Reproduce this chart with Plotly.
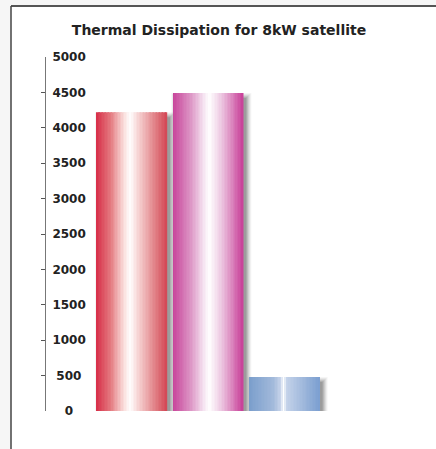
import plotly.graph_objects as go

# ---- data ----
categories = ["Series 1", "Series 2", "Series 3"]
values = [4220, 4490, 480]
tick_values = [0, 500, 1000, 1500, 2000, 2500, 3000, 3500, 4000, 4500, 5000]
tick_labels = [str(v) for v in tick_values]
title_text = "Thermal Dissipation for 8kW satellite"

# ---- style ----
gradients = [
    [(0, "#d72e48"), (0.2, "#e47a80"), (0.4, "#fbe2e0"), (0.48, "#ffffff"), (0.6, "#f6d2d2"), (0.85, "#e07c82"), (1, "#d34654")],
    [(0, "#c8449a"), (0.25, "#dc93c4"), (0.45, "#f6e6f2"), (0.52, "#ffffff"), (0.7, "#ecc6e0"), (1, "#c83e98")],
    [(0, "#7a9ecc"), (0.35, "#a3badb"), (0.45, "#c7d4ea"), (0.49, "#ffffff"), (0.53, "#c5d3ea"), (0.8, "#9bb5da"), (1, "#7b9fd0")],
]

def hex2rgb(h):
    h = h.lstrip("#")
    return tuple(int(h[i:i + 2], 16) for i in (0, 2, 4))

def interp(stops, t):
    for (t0, c0), (t1, c1) in zip(stops[:-1], stops[1:]):
        if t0 <= t <= t1:
            f = 0 if t1 == t0 else (t - t0) / (t1 - t0)
            a, b = hex2rgb(c0), hex2rgb(c1)
            return "rgb(%d,%d,%d)" % tuple(round(a[k] + (b[k] - a[k]) * f) for k in range(3))
    return stops[-1][1]

# centre narrower labels within a 4-digit slot (figure space = one digit, three-per-em ~ half digit)
def centred(label, slot=4):
    d = slot - len(label)
    return "\u2007" * (d // 2) + ("\u2004" if d % 2 else "") + label

L, R, T, B = 45, 60, 57, 38
W, H = 436, 449
pw, ph = W - L - R, H - T - B
pitch = 76.3                  # px per category
xr = [-1.14, -1.14 + pw / pitch]
yr = [0, 5000]
ux = 1 / pitch                # category units per px
uy = (yr[1] - yr[0]) / ph     # data units per px
bw = 70 * ux                  # bar width in category units

fig = go.Figure()

# shadows
for e, op in [(5, 0.05), (4, 0.07), (3, 0.09), (2, 0.11), (1, 0.13), (0, 0.15)]:
    dx, dy = 3, 3
    fig.add_trace(go.Bar(
        x=categories,
        y=[v + 2 * e * uy - 2 * uy for v in values],
        base=[-(dy + e) * uy for _ in values],
        width=bw + 2 * e * ux,
        offset=-bw / 2 - e * ux + dx * ux,
        marker=dict(color="rgba(50,50,50,%.3f)" % op, line=dict(width=0)),
        cliponaxis=False, hoverinfo="skip", showlegend=False,
    ))

# gradient bars as slices
N = 48
sw = bw / N
for i in range(N):
    t = (i + 0.5) / N
    fig.add_trace(go.Bar(
        x=categories,
        y=values,
        width=sw * 1.15,
        offset=-bw / 2 + i * sw,
        marker=dict(color=[interp(g, t) for g in gradients], line=dict(width=0)),
        hoverinfo="skip", showlegend=False, cliponaxis=False,
    ))

def px2x(px):
    return (px - L) / pw

def py2y(py):
    return (H - B - py) / ph

shapes = [
    dict(type="rect", xref="paper", yref="paper", x0=px2x(0), x1=px2x(W), y0=py2y(6), y1=py2y(0),
         fillcolor="#f6f6f6", line=dict(width=0), layer="below"),
    dict(type="rect", xref="paper", yref="paper", x0=px2x(0), x1=px2x(11), y0=py2y(H), y1=py2y(6),
         fillcolor="#f6f6f6", line=dict(width=0), layer="below"),
    dict(type="line", xref="paper", yref="paper", x0=px2x(11), x1=px2x(W), y0=py2y(6), y1=py2y(6),
         line=dict(color="#555555", width=2)),
    dict(type="line", xref="paper", yref="paper", x0=px2x(11), x1=px2x(11), y0=py2y(6), y1=py2y(H),
         line=dict(color="#444444", width=1.5)),
]

fig.update_layout(
    width=W, height=H,
    margin=dict(l=L, r=R, t=T, b=B, pad=0),
    paper_bgcolor="white", plot_bgcolor="white",
    barmode="overlay",
    title=dict(text=title_text, x=(219 - L) / pw, xref="paper", xanchor="center",
               y=1 - 30 / H, yref="container", yanchor="middle", pad=dict(t=0, b=0),
               font=dict(family="DejaVu Sans", size=14, color="#222222", weight="bold")),
    shapes=shapes,
    xaxis=dict(range=xr, showticklabels=False, showline=False, showgrid=False, zeroline=False, ticks=""),
    yaxis=dict(range=yr, tickvals=tick_values, ticktext=[centred(s) for s in tick_labels],
               side="right", anchor="free", position=0,
               showline=True, linecolor="#777777", linewidth=1,
               ticks="inside", ticklen=4, tickcolor="#555555", tickwidth=1,
               ticklabelposition="outside", ticklabelstandoff=4,
               showgrid=False, zeroline=False,
               tickfont=dict(family="DejaVu Sans", size=12, color="#222222", weight="bold")),
    showlegend=False,
)

fig.write_html("out.html", config={"displayModeBar": False},
               post_script="document.body.style.margin='0';")
